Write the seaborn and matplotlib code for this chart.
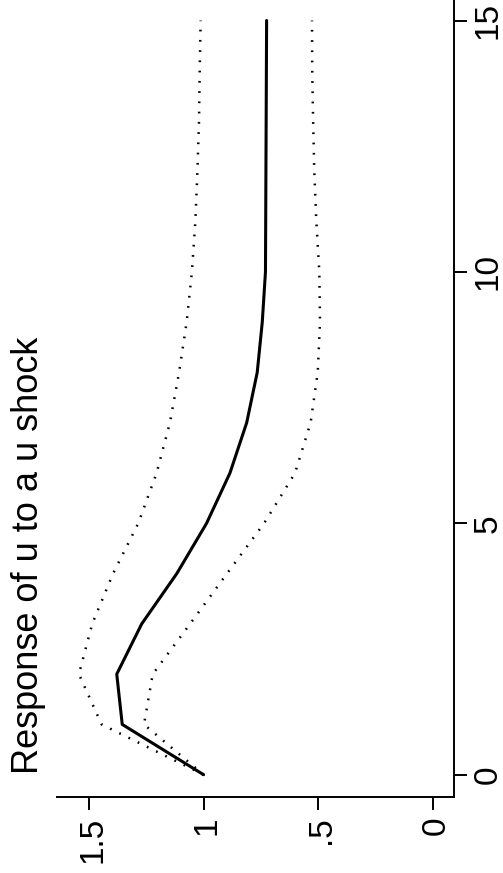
import numpy as np
import pandas as pd
import matplotlib
matplotlib.use("Agg")
import matplotlib.pyplot as plt
import seaborn as sns

# ---- data ----
steps = list(range(16))
irf = [1.0, 1.355, 1.379, 1.270, 1.117, 0.987, 0.885, 0.812, 0.766, 0.744,
       0.730, 0.729, 0.728, 0.727, 0.726, 0.725]
upper = [1.0, 1.445, 1.544, 1.486, 1.395, 1.285, 1.205, 1.147, 1.107, 1.074,
         1.051, 1.036, 1.027, 1.020, 1.017, 1.013]
lower = [1.0, 1.260, 1.222, 1.059, 0.898, 0.736, 0.601, 0.533, 0.502, 0.492,
         0.495, 0.508, 0.517, 0.522, 0.526, 0.527]
resp_ticks = [0, 0.5, 1, 1.5]
resp_labels = ["0", ".5", "1", "1.5"]
step_ticks = [0, 5, 10, 15]
step_labels = ["0", "5", "10", "15"]
title = "Response of u to a u shock"

df = pd.DataFrame({"step": steps, "irf": irf, "upper": upper, "lower": lower})

sns.set_style("white")
plt.rcParams["font.family"] = ["Liberation Sans", "DejaVu Sans"]

fig = plt.figure(figsize=(5.03, 8.73), dpi=100)
ax = fig.add_axes([56.7 / 503, (873 - 796.7) / 873, (454.3 - 56.7) / 503, 796.7 / 873])

dots = (0, (0.7, 3.4))
sns.lineplot(data=df, x="upper", y="step", orient="y", sort=False, estimator=None,
             color="black", lw=1.8, ax=ax, linestyle=dots)
sns.lineplot(data=df, x="lower", y="step", orient="y", sort=False, estimator=None,
             color="black", lw=1.8, ax=ax, linestyle=dots)
sns.lineplot(data=df, x="irf", y="step", orient="y", sort=False, estimator=None,
             color="black", lw=2.2, ax=ax)

ax.set_xlim(1.641, -0.094)
ax.set_ylim(-0.4375, 15.408)
ax.set_xlabel("")
ax.set_ylabel("")

for s in ["top", "left"]:
    ax.spines[s].set_visible(False)
for s in ["bottom", "right"]:
    ax.spines[s].set_linewidth(1.4)
    ax.spines[s].set_color("black")

ax.yaxis.tick_right()
ax.set_xticks(resp_ticks, resp_labels)
ax.set_yticks(step_ticks, step_labels)
ax.tick_params(axis="both", direction="out", length=9.4, width=1.4, color="black",
               labelsize=24, labelcolor="black")
ax.tick_params(axis="x", pad=5, bottom=True)
ax.tick_params(axis="y", pad=4, right=True, left=False)

for lab in ax.get_xticklabels():
    lab.set_rotation(90)
    lab.set_rotation_mode("anchor")
    lab.set_ha("right")
    lab.set_va("center_baseline")
for lab in ax.get_yticklabels():
    lab.set_rotation(90)
    lab.set_rotation_mode("anchor")
    lab.set_ha("center")
    lab.set_va("top")

fig.text(38 / 503, (873 - 774) / 873, title, rotation=90, rotation_mode="anchor",
         ha="left", va="baseline", fontsize=26, color="black")

fig.savefig("out.png", dpi=100, facecolor="white")
